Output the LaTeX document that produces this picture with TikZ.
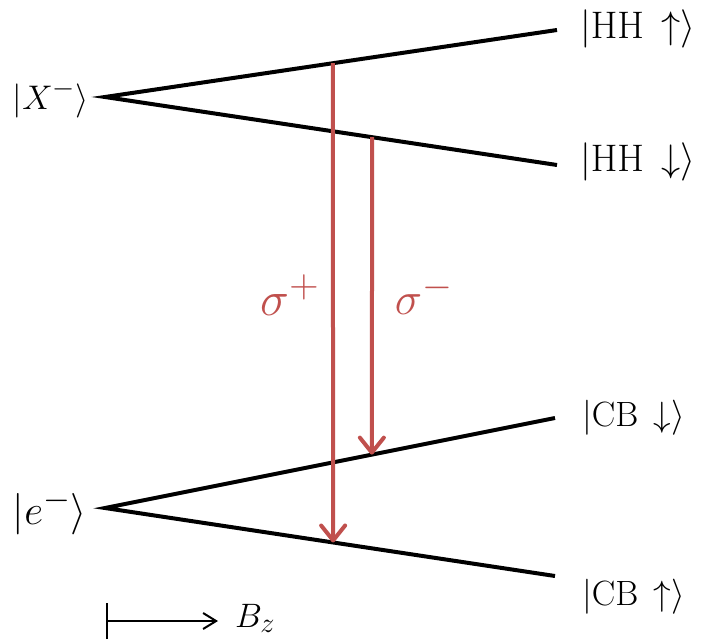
\documentclass[tikz,border=0pt]{standalone}
\usepackage{graphicx}
\usetikzlibrary{arrows.meta,calc}
\definecolor{sred}{RGB}{192,80,77}
\newcommand{\fitw}[2]{\resizebox{#1}{!}{\Huge$#2$}}
\begin{document}
\begin{tikzpicture}[x=1pt,y=1pt,
  level/.style={line width=4pt},
  trans/.style={draw=sred,line width=4pt,-{Straight Barb[length=15pt,width=24pt,line width=4pt,round]}},
  lab/.style={inner sep=0pt},
  slab/.style={inner sep=0pt,text=sred}]
\useasboundingbox (0,0) rectangle (702,-640);
\coordinate (Xo) at (105,-97);
\coordinate (HHu) at (557,-30);
\coordinate (HHd) at (557,-165);
\coordinate (eo) at (105,-508);
\coordinate (CBd) at (555,-418);
\coordinate (CBu) at (555,-576);
\node[lab,anchor=east] (X) at (89,-99) {\fitw{76pt}{|X^-\rangle}};
\node[lab,anchor=east] (e) at (87,-512) {\fitw{74pt}{|e^-\rangle}};
\node[lab,anchor=west] (lHHu) at (580,-29) {\fitw{115pt}{|\mathrm{HH}\,\uparrow\rangle}};
\node[lab,anchor=west] (lHHd) at (580,-162) {\fitw{115pt}{|\mathrm{HH}\,\downarrow\rangle}};
\node[lab,anchor=west] (lCBd) at (582,-418) {\fitw{103pt}{|\mathrm{CB}\,\downarrow\rangle}};
\node[lab,anchor=west] (lCBu) at (582,-597) {\fitw{103pt}{|\mathrm{CB}\,\uparrow\rangle}};
\draw[level] (HHu) -- (Xo) -- (HHd);
\draw[level] (CBd) -- (eo) -- (CBu);
\coordinate (sp1) at ($(Xo)!0.504!(HHu)$);
\coordinate (sp2) at ($(eo)!0.507!(CBu)$);
\coordinate (sm1) at ($(Xo)!0.591!(HHd)$);
\coordinate (sm2) at ($(eo)!0.593!(CBd)$);
\draw[trans] (sp1) -- (sp2);
\draw[trans] (sm1) -- (sm2);
\node[slab] (sp) at (290,-295) {\fitw{59pt}{\sigma^+}};
\node[slab] (sm) at (424,-295) {\fitw{58pt}{\sigma^-}};
\coordinate (b0) at (106,-621);
\coordinate (b1) at (218,-621);
\draw[line width=2pt,{Bar[width=36pt,line width=2pt]}-{Straight Barb[length=13pt,width=16pt,line width=2pt]}] (b0) -- (b1);
\node[lab,anchor=west] (Bz) at (235,-618) {\fitw{40pt}{B_z}};
\end{tikzpicture}
\end{document}
